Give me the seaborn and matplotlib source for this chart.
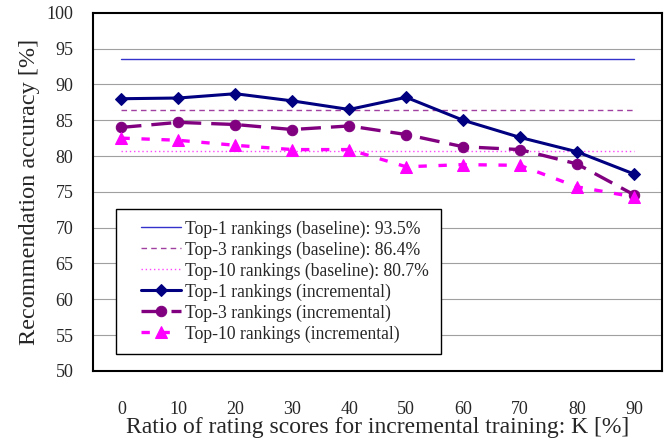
import pandas as pd
import matplotlib
matplotlib.use('Agg')
import matplotlib.pyplot as plt
from matplotlib.lines import Line2D
from matplotlib.legend_handler import HandlerLine2D
import seaborn as sns

sns.set_style('white')
plt.rcParams['font.family'] = ['Liberation Serif', 'DejaVu Serif']

# data
ratios = ['0', '10', '20', '30', '40', '50', '60', '70', '80', '90']
top1_inc = [88.0, 88.1, 88.7, 87.7, 86.5, 88.2, 85.0, 82.6, 80.6, 77.5]
top3_inc = [84.0, 84.7, 84.4, 83.7, 84.2, 83.0, 81.3, 80.9, 78.9, 74.6]
top10_inc = [82.5, 82.2, 81.5, 80.9, 80.9, 78.5, 78.8, 78.7, 75.7, 74.3]
top1_base = 93.5
top3_base = 86.4
top10_base = 80.7

pos = list(range(len(ratios)))
df = pd.DataFrame({'pos': pos,
                   'top1_base': [top1_base] * len(pos),
                   'top3_base': [top3_base] * len(pos),
                   'top10_base': [top10_base] * len(pos),
                   'top1_inc': top1_inc,
                   'top3_inc': top3_inc,
                   'top10_inc': top10_inc})

fig = plt.figure(figsize=(6.69, 4.41), dpi=100)
ax = fig.add_axes([0.139, 0.159, 0.851, 0.812])

sns.lineplot(data=df, x='pos', y='top1_base', ax=ax, color='#3333CC', lw=1.0,
             label='Top-1 rankings (baseline): 93.5%')
sns.lineplot(data=df, x='pos', y='top3_base', ax=ax, color='#A040A0', lw=1.0,
             linestyle=(0, (4, 3)),
             label='Top-3 rankings (baseline): 86.4%')
sns.lineplot(data=df, x='pos', y='top10_base', ax=ax, color='#FF44FF', lw=1.0,
             linestyle=(0, (1, 2)),
             label='Top-10 rankings (baseline): 80.7%')
sns.lineplot(data=df, x='pos', y='top1_inc', ax=ax, color='#000080', lw=2.2,
             marker='D', markersize=6.5, markeredgecolor='#000080',
             label='Top-1 rankings (incremental)')
sns.lineplot(data=df, x='pos', y='top3_inc', ax=ax, color='#800080', lw=2.4,
             linestyle=(0, (6, 3)), marker='o', markersize=7.5,
             markeredgecolor='#800080',
             label='Top-3 rankings (incremental)')
sns.lineplot(data=df, x='pos', y='top10_inc', ax=ax, color='#FF00FF', lw=2.4,
             linestyle=(0, (2.5, 3.5)), marker='^', markersize=8,
             markeredgecolor='#FF00FF',
             label='Top-10 rankings (incremental)')

ax.set_xlim(-0.5, 9.5)
ax.set_ylim(50, 100)
ax.set_xticks(pos)
ax.set_xticklabels(ratios)
ax.set_yticks(range(50, 101, 5))
for y in range(55, 100, 5):
    ax.axhline(y, color='#A0A0A0', lw=0.8, zorder=0)
ax.tick_params(axis='x', length=0, pad=22, labelsize=13)
ax.tick_params(axis='y', length=0, pad=14, labelsize=13)
for s in ax.spines.values():
    s.set_color('black')
    s.set_linewidth(1.5)

ax.set_xlabel('Ratio of rating scores for incremental training: K [%]',
              fontsize=17, labelpad=-1)
ax.set_ylabel('Recommendation accuracy [%]', fontsize=17.5, labelpad=5)

leg = ax.legend(loc='lower left', bbox_to_anchor=(0.040, 0.047), fontsize=12.7,
                frameon=True, fancybox=False, edgecolor='black',
                framealpha=1, labelspacing=0.21, handlelength=3.05,
                handletextpad=0.25, borderpad=0.65, borderaxespad=0,
                handler_map={Line2D: HandlerLine2D(xpad=0.8)})
leg.get_frame().set_linewidth(1.0)

plt.savefig('out.png', dpi=100)
plt.close(fig)
